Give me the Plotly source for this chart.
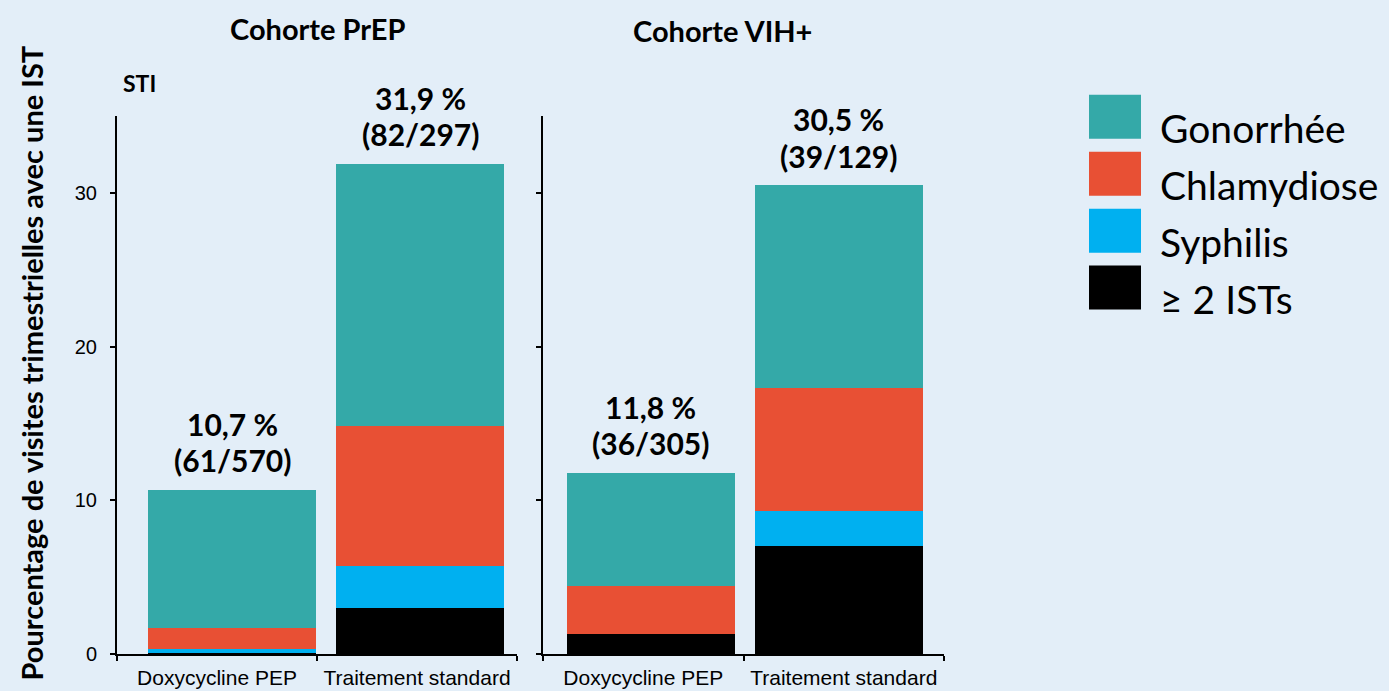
import plotly.graph_objects as go

# ---------------- data ----------------
categories = ["Doxycycline PEP", "Traitement standard"]
series_names = ["Gonorrhée", "Chlamydiose", "Syphilis", "≥ 2 ISTs"]

prep_gono = [9.0, 17.1]
prep_chlam = [1.4, 9.1]
prep_syph = [0.2, 2.7]
prep_multi = [0.1, 3.0]

vih_gono = [7.4, 13.2]
vih_chlam = [3.1, 8.0]
vih_syph = [0.0, 2.3]
vih_multi = [1.3, 7.0]

prep_pct_labels = ["10,7 %", "31,9 %"]
prep_n_labels = ["(61/570)", "(82/297)"]
vih_pct_labels = ["11,8 %", "30,5 %"]
vih_n_labels = ["(36/305)", "(39/129)"]

panel_titles = ["Cohorte PrEP", "Cohorte VIH+"]
y_ticks = [0, 10, 20, 30]

# ---------------- style ----------------
W, H = 1389, 691          # design coordinates
H_LAYOUT = 701            # page height that the capture maps onto 691 px
K = H_LAYOUT / H
BG = "#E3EEF8"
colors = {"Gonorrhée": "#34A9A8", "Chlamydiose": "#E85034",
          "Syphilis": "#00B0F0", "≥ 2 ISTs": "#000000"}
BOLD = "Lato"
ARIAL = "Liberation Sans"


def px(x):
    return x / W


def py(y):
    return (H - y) / H


fig = go.Figure()

panels = [
    ("x", "y", {"Gonorrhée": prep_gono, "Chlamydiose": prep_chlam,
                "Syphilis": prep_syph, "≥ 2 ISTs": prep_multi},
     prep_pct_labels, prep_n_labels),
    ("x2", "y2", {"Gonorrhée": vih_gono, "Chlamydiose": vih_chlam,
                  "Syphilis": vih_syph, "≥ 2 ISTs": vih_multi},
     vih_pct_labels, vih_n_labels),
]

annotations = []
for xa, ya, data, pct, nl in panels:
    for name in ["≥ 2 ISTs", "Syphilis", "Chlamydiose", "Gonorrhée"]:
        fig.add_trace(go.Bar(x=categories, y=data[name], name=name,
                             marker=dict(color=colors[name], line=dict(width=0)),
                             xaxis=xa, yaxis=ya, showlegend=False,
                             hoverinfo="skip"))
    totals = [sum(data[n][i] for n in series_names) for i in range(len(categories))]
    for i, c in enumerate(categories):
        annotations.append(dict(x=c, y=totals[i], xref=xa, yref=ya, text=f"<b>{nl[i]}</b>",
                                showarrow=False, xanchor="center", yanchor="middle",
                                yshift=29 * K,
                                font=dict(family=BOLD, size=30, color="black")))
        annotations.append(dict(x=c, y=totals[i], xref=xa, yref=ya, text=f"<b>{pct[i]}</b>",
                                showarrow=False, xanchor="center", yanchor="middle",
                                yshift=65 * K,
                                font=dict(family=BOLD, size=30, color="black")))

# invisible traces so the overlay axes (boundary ticks + labels) are drawn
for xa, ya in [("x3", "y"), ("x4", "y2")]:
    fig.add_trace(go.Scatter(x=[0, 2], y=[0, 0], xaxis=xa, yaxis=ya, mode="none",
                             showlegend=False, hoverinfo="skip"))

# panel titles
annotations.append(dict(x=px(318), y=py(29), xref="paper", yref="paper",
                        text=f"<b>{panel_titles[0]}</b>", showarrow=False,
                        xanchor="center", yanchor="middle",
                        font=dict(family=BOLD, size=29, color="black")))
annotations.append(dict(x=px(723), y=py(31), xref="paper", yref="paper",
                        text=f"<b>{panel_titles[1]}</b>", showarrow=False,
                        xanchor="center", yanchor="middle",
                        font=dict(family=BOLD, size=29, color="black")))
annotations.append(dict(x=px(139), y=py(83), xref="paper", yref="paper",
                        text="<b>STI</b>", showarrow=False,
                        xanchor="center", yanchor="middle",
                        font=dict(family=BOLD, size=23, color="black")))
# y axis title
annotations.append(dict(x=px(31), y=py(364), xref="paper", yref="paper",
                        text="<b>Pourcentage de visites trimestrielles avec une IST</b>",
                        textangle=-90, showarrow=False, xanchor="center", yanchor="middle",
                        font=dict(family=BOLD, size=29, color="black")))

# legend (drawn manually for large swatches)
shapes = []
leg_y = [117, 174, 231, 288]
for name, yc in zip(series_names, leg_y):
    shapes.append(dict(type="rect", xref="paper", yref="paper",
                       x0=px(1089), x1=px(1141), y0=py(yc - 22), y1=py(yc + 22),
                       fillcolor=colors[name], line=dict(width=0)))
    annotations.append(dict(x=px(1158), y=py(yc + 11), xref="paper", yref="paper",
                            text=name, showarrow=False, xanchor="left", yanchor="middle",
                            font=dict(family=BOLD, size=39, color="black")))

line_style = dict(showline=True, linecolor="black", linewidth=2, showgrid=False,
                  zeroline=False)

cat_axis = dict(ticks="", showticklabels=False, **line_style)
bound_axis = dict(range=[0, 2], tickvals=[0.5, 1.5], ticktext=categories, ticks="",
                  tickfont=dict(family=ARIAL, size=21, color="black"),
                  ticklabelstandoff=4,
                  minor=dict(tickvals=[0, 1, 2], ticks="outside", ticklen=5,
                             tickwidth=2, tickcolor="black"),
                  **line_style)
y_axis = dict(range=[0, 35], tickvals=y_ticks, ticks="outside", tickcolor="black",
              tickwidth=2, ticklen=5, **line_style)

fig.update_layout(
    width=W, height=H_LAYOUT, autosize=False,
    margin=dict(l=0, r=0, t=0, b=0, pad=0),
    paper_bgcolor=BG, plot_bgcolor=BG,
    barmode="stack", bargap=0.106,
    annotations=annotations, shapes=shapes,
    xaxis=dict(domain=[px(117), px(517)], anchor="y", range=[-0.612, 1.516], **cat_axis),
    xaxis3=dict(overlaying="x", anchor="y", **bound_axis),
    yaxis=dict(domain=[py(655), py(116)], anchor="x",
               tickfont=dict(family=ARIAL, size=20, color="black"), ticklabelstandoff=9,
               **y_axis),
    xaxis2=dict(domain=[px(543), px(944)], anchor="y2", range=[-0.574, 1.559], **cat_axis),
    xaxis4=dict(overlaying="x2", anchor="y2", **bound_axis),
    yaxis2=dict(domain=[py(655), py(116)], anchor="x2", showticklabels=False, **y_axis),
    showlegend=False,
)

post = (
    "document.body.style.margin='0';"
    "document.body.style.background='" + BG + "';"
    "document.documentElement.style.background='" + BG + "';"
)

fig.write_html(
    "out.html",
    config={"displayModeBar": False},
    post_script=post,
)
